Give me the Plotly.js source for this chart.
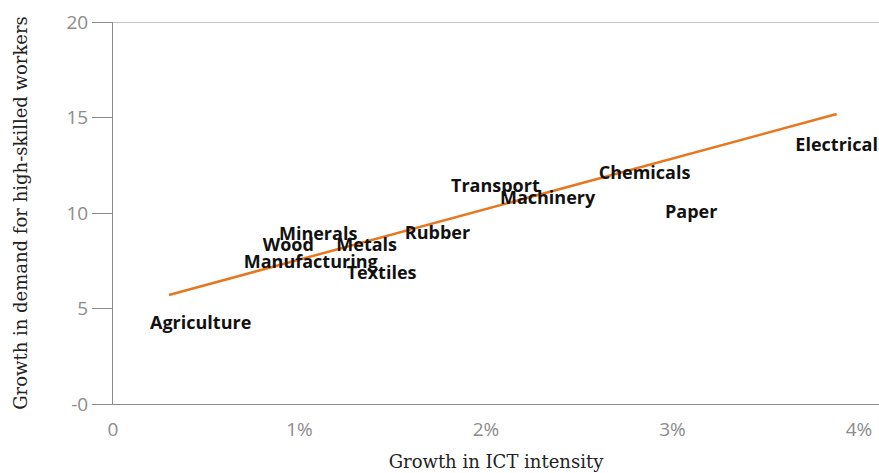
<!DOCTYPE html>
<html>
<head>
<meta charset="utf-8">
<script src="https://cdn.plot.ly/plotly-3.0.1.min.js"></script>
<style>html,body{margin:0;padding:0;background:#fff;}#chart{width:879px;height:473px;}</style>
</head>
<body>
<div id="chart"></div>
<script>
// Industry labels and values (x: growth in ICT intensity, %; y: growth in demand for high-skilled workers)
const industries = ["Agriculture","Manufacturing","Wood","Minerals","Metals","Textiles","Rubber","Transport","Machinery","Chemicals","Paper","Electrical"];
const ictGrowth = [0.47, 1.06, 0.94, 1.10, 1.36, 1.44, 1.74, 2.05, 2.33, 2.85, 3.10, 3.88];
const skillDemand = [4.14, 7.38, 8.27, 8.80, 8.27, 6.80, 8.85, 11.36, 10.73, 11.99, 9.95, 13.50];

// Fitted trend line endpoints
const trendX = [0.30, 3.88];
const trendY = [5.71, 15.18];

const xTickVals = [0, 1, 2, 3, 4];
const xTickText = ["0", "1%", "2%", "3%", "4%"];
const yTickVals = [0, 5, 10, 15, 20];
const yTickText = ["-0", "5", "10", "15", "20"];

const traces = [
  {
    x: trendX, y: trendY, mode: "lines", type: "scatter",
    line: {color: "#E8761E", width: 2.5}, hoverinfo: "skip", showlegend: false
  },
  {
    x: ictGrowth, y: skillDemand, mode: "text", type: "scatter",
    text: industries, textposition: "middle center",
    textfont: {family: "Open Sans", size: 18, color: "#111", weight: "bold"},
    showlegend: false
  }
];

const layout = {
  width: 879, height: 473,
  margin: {l: 113, r: 0, t: 22, b: 69},
  paper_bgcolor: "#fff", plot_bgcolor: "#fff",
  xaxis: {
    range: [0, 4.107], tickvals: xTickVals, ticktext: xTickText,
    showgrid: false, zeroline: false, showline: true, linecolor: "#8a8a8a", linewidth: 1,
    ticks: "outside", ticklen: 8, tickcolor: "rgba(0,0,0,0)",
    tickfont: {family: "Open Sans", size: 19, color: "#8c8c8c"},
    title: {text: "Growth in ICT intensity", font: {family: "DejaVu Serif", size: 18, color: "#222"}, standoff: 14}
  },
  yaxis: {
    range: [0, 20], tickvals: yTickVals, ticktext: yTickText,
    showgrid: false, zeroline: false, showline: true, linecolor: "#8a8a8a", linewidth: 1,
    ticks: "outside", ticklen: 20, tickcolor: "#8a8a8a", tickwidth: 1,
    tickfont: {family: "Open Sans", size: 19, color: "#8c8c8c"},
    title: {text: "Growth in demand for high-skilled workers", font: {family: "DejaVu Serif", size: 18, color: "#222"}, standoff: 34}
  },
  shapes: [
    {type: "line", xref: "paper", yref: "y", x0: 0, x1: 1, y0: 20, y1: 20, line: {color: "#8a8a8a", width: 1}}
  ]
};

Plotly.newPlot("chart", traces, layout, {displayModeBar: false, staticPlot: true});
</script>
</body>
</html>
